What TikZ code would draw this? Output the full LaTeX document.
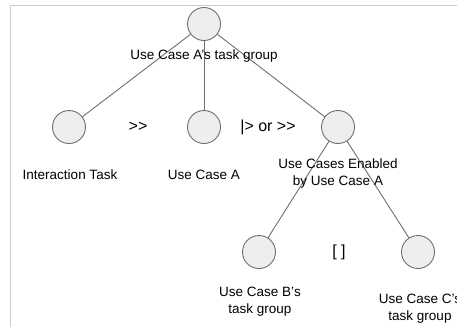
\documentclass[tikz,border=0pt]{standalone}
\usepackage{fontspec}
\setmainfont{Liberation Sans}
\newfontfamily\opfont{Liberation Sans}
\usepackage{xcolor}
\usepackage{tikz}
\usetikzlibrary{positioning}
\definecolor{taskfill}{HTML}{EEEEEE}
\definecolor{taskline}{HTML}{6E6E6E}
\definecolor{framegray}{HTML}{CCCCCC}
\tikzset{
  task/.style={circle, draw=taskline, fill=taskfill, line width=0.9pt, minimum size=33pt, inner sep=0pt},
  tasklabel/.style={align=center, font=\fontsize{13.5}{17}\selectfont, inner sep=0pt},
  operator/.style={font=\opfont\fontsize{16}{18}\selectfont, inner sep=0pt},
  link/.style={draw=taskline, line width=0.9pt},
}

\begin{document}
\begin{tikzpicture}[x=1pt, y=-1pt]
  \useasboundingbox (0,0) rectangle (457,327);
  % screenshot frame
  \draw[framegray, line width=1pt] (10,327) -- (10,5) -- (457,5);

  % task tree
  \node[task] (root) at (204,24) {};
  \node[task] (inter) at (69,127) {};
  \node[task] (ucA) at (204,127) {};
  \node[task] (enabled) at (338,127) {};
  \node[task] (ucB) at (259,252) {};
  \node[task] (ucC) at (418,252) {};
  \draw[link] (root) -- (inter);
  \draw[link] (root) -- (ucA);
  \draw[link] (root) -- (enabled);
  \draw[link] (enabled) -- (ucB);
  \draw[link] (enabled) -- (ucC);

  % labels
  \node[tasklabel] (rootlbl) at (204,56) {Use Case A's task group};
  \node[tasklabel] (interlbl) at (70,175) {Interaction Task};
  \node[tasklabel] (ucAlbl) at (204,175) {Use Case A};
  \node[tasklabel] (enabledlbl) at (338,174) {Use Cases Enabled\\by Use Case A};
  \node[tasklabel] (ucBlbl) at (260,302) {Use Case B's\\task group};
  \node[tasklabel] (ucClbl) at (420,309) {Use Case C's\\task group};

  % operators
  \node[operator] (enable) at (138,127) {>>};
  \node[operator] (choice) at (268,127) {|> or >>};
  \node[operator] (alt) at (339,252) {[ ]};
\end{tikzpicture}
\end{document}
